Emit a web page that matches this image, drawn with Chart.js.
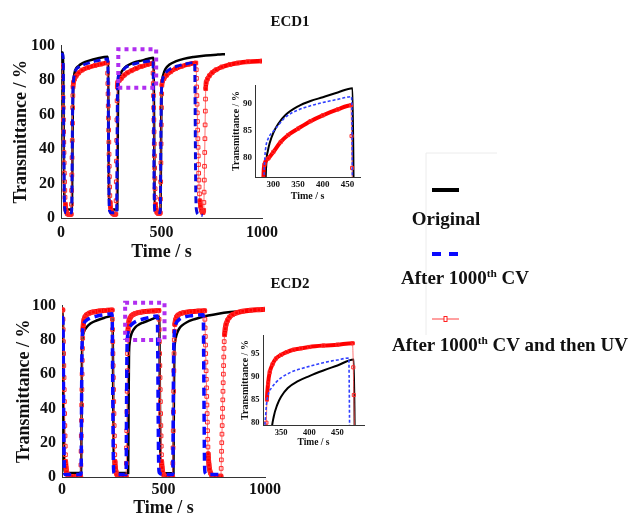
<!DOCTYPE html>
<html><head><meta charset="utf-8">
<script src="https://cdn.jsdelivr.net/npm/chart.js@4"></script>
<style>
body{margin:0;background:#fff;width:630px;height:517px;overflow:hidden;position:relative;font-family:'Liberation Serif','Times New Roman',serif;}
canvas{position:absolute;}
.t{position:absolute;font-weight:bold;color:#111;white-space:nowrap;line-height:1;}
sup{font-size:0.6em;vertical-align:0.55em;line-height:0;}
</style></head><body>
<canvas id="m1" style="left:0;top:30px" width="285" height="240"></canvas>
<canvas id="m2" style="left:0;top:290px" width="285" height="235"></canvas>
<canvas id="i1" style="left:225px;top:75px" width="145" height="130"></canvas>
<canvas id="i2" style="left:230px;top:325px" width="145" height="130"></canvas>
<div class="t" style="left:290px;top:21px;font-size:15px;transform:translate(-50%,-50%)">ECD1</div>
<div class="t" style="left:290px;top:283px;font-size:15px;transform:translate(-50%,-50%)">ECD2</div>
<svg style="position:absolute;left:0;top:0" width="630" height="517">
  <line x1="426" y1="153" x2="497" y2="153" stroke="#ececec" stroke-width="1"/>
  <line x1="426" y1="153" x2="426" y2="335" stroke="#ececec" stroke-width="1"/>
  <line x1="432" y1="190" x2="459" y2="190" stroke="#000" stroke-width="4"/>
  <line x1="432" y1="254" x2="441" y2="254" stroke="#0a0aff" stroke-width="4"/>
  <line x1="449" y1="254" x2="458" y2="254" stroke="#0a0aff" stroke-width="4"/>
  <line x1="432" y1="319" x2="459" y2="319" stroke="#ff4040" stroke-width="1"/>
  <rect x="444" y="316.5" width="3" height="5" fill="#fff" stroke="#ff2020" stroke-width="1"/>
</svg>
<div id="lg1" class="t" style="left:446px;top:218px;font-size:19px;transform:translate(-50%,-50%)">Original</div>
<div id="lg2" class="t" style="left:401px;top:277px;font-size:19px;transform:translateY(-50%)">After 1000<sup>th</sup> CV</div>
<div id="lg3" class="t" style="left:392px;top:344px;font-size:19px;transform:translateY(-50%)">After 1000<sup>th</sup> CV and then UV</div>
<script>
// ---------------- DATA ----------------
const mainXTicks = [0, 500, 1000];
const mainYTicks = [0, 20, 40, 60, 80, 100];
const inset1XTicks = [300, 350, 400, 450];
const inset1YTicks = [80, 85, 90];
const inset2XTicks = [350, 400, 450];
const inset2YTicks = [80, 85, 90, 95];
const seriesNames = ["Original", "After 1000th CV", "After 1000th CV and then UV"];

// ECD1 [time s, transmittance %]
const ecd1Original = [[0,96],[9,96],[11,85],[13,55],[15,25],[17,10],[20,6],[30,5],[45,5],[54,5],[56,25],[58,55],[60,72],[63,80],[67,84],[72,86],[85,88],[110,90],[140,91.3],[180,92.5],[233,93.5],[235,75],[237,40],[239,15],[242,6],[250,5],[265,5],[280,5],[282,40],[284,72],[286,79],[289,81.2],[293,82.8],[300,84.6],[310,86.3],[325,88],[350,89.6],[375,90.6],[400,91.3],[430,92.2],[460,93],[462,75],[464,40],[466,15],[469,5],[480,4],[495,4],[497,30],[499,60],[501,74],[504,80],[510,83.5],[520,86.5],[540,89],[570,90.8],[610,92.3],[660,93.4],[720,94.3],[780,94.8],[816,95]];
const ecd1AfterCV = [[0,95],[10,95],[12,80],[14,45],[16,15],[19,5],[25,3],[40,3],[53,3],[55,25],[57,55],[59,72],[62,79],[66,83],[72,85.5],[85,87.3],[110,88.8],[140,90],[180,91.2],[233,92.2],[235,70],[237,35],[239,12],[242,4],[250,3],[265,3],[277,3],[279,45],[281,74],[283,80],[285,82],[290,83.6],[300,84.9],[310,86],[325,87.6],[350,88.9],[375,89.7],[400,90.3],[430,90.9],[458,91.4],[460,70],[462,35],[464,12],[467,4],[480,3],[494,3],[496,30],[498,62],[500,74],[504,79.5],[512,82.5],[525,84.8],[545,86.6],[575,88],[615,89.2],[665,90.2],[667,70],[669,35],[671,12],[675,4],[685,2],[705,1.5]];
const ecd1AfterCVUV = [[0,88.5],[7,88],
 [8,82],[9,76],[10,70],[11,64],[12,57],[13,50],[14,44],[15,38],[16,32],[17,26],[18,21],[19,16],[20,12],[22,8],[24,5],[27,3.5],[31,2.5],[38,2],[46,2],[51,2.2],
 [52,8],[53,16],[54,25],[55,35],[56,45],[57,55],[58,64],[59,71],[60,76],[62,78.5],[67,80.5],[75,82.3],[88,84.2],[105,85.8],[135,87.3],[170,88.5],[200,89.3],[231,90],
 [232,84],[233,78],[234,72],[235,65],[236,58],[237,51],[238,44],[239,37],[240,30],[241,24],[242,18],[243,13],[245,9],[247,6],[250,4],[255,2.8],[262,2.2],[268,2],[273,2.3],
 [274,10],[275,21],[276,33],[277,45],[278,57],[279,68],[280,76],[282,78.6],[290,79.8],[300,81],[315,82.9],[330,84.2],[350,85.4],[375,86.8],[400,87.9],[430,89],[457,89.8],
 [458,84],[459,78],[460,71],[461,64],[462,57],[463,50],[464,43],[465,36],[466,29],[467,23],[468,17],[469,12],[471,8],[473,5],[477,3.3],[484,2.6],[490,2.6],[494,3],
 [495,11],[496,21],[497,32],[498,43],[499,54],[500,64],[501,72],[502,77],[505,79.3],[512,80.8],[525,82.8],[545,84.8],[570,86.6],[600,88],[635,89.2],[671,89.9],
 [673,86],[674,81],[675,76],[676,71],[677,66],[678,61],[679,56],[680,51],[681,46],[682,41],[683,36],[684,31],[685,26],[686,22],[687,18],[689,14],[691,10],[694,7],[698,4.5],[703,3.3],[707,3.2],[710,4.5],
 [711,9],[712,15],[713,22],[714,30],[715,38],[716,46],[717,54],[718,62],[719,69],[720,75],[722,78.5],[728,80.5],[738,82.5],[752,84.3],[772,86],[800,87.6],[840,89],[880,89.9],[930,90.6],[1000,91]];

// ECD2 [time s, transmittance %]
const ecd2Original = [[0,96],[4,96],[6,80],[8,45],[10,15],[12,5],[15,2.5],[40,2.3],[94,2.3],[96,30],[98,65],[100,78],[104,83],[110,85.3],[120,87.2],[140,89.5],[170,91.3],[210,92.9],[249,94],[251,70],[253,35],[255,10],[258,3],[270,2.3],[300,2.3],[326,2.3],[328,40],[330,70],[333,78],[337,81.3],[343,83.8],[350,85.6],[362,87.5],[380,89],[400,90.1],[425,91.3],[450,92.4],[479,93.7],[481,70],[483,35],[485,10],[488,3],[500,2.2],[530,2.2],[549,2.2],[551,40],[553,70],[556,78],[560,81],[567,84],[577,86.5],[592,88.5],[615,90.3],[645,91.8],[680,93],[720,94.2],[770,95.3],[830,96.2],[900,96.9],[995,97.4]];
const ecd2AfterCV = [[0,93],[4,93],[6,75],[8,40],[10,12],[12,3],[15,1.5],[50,1.5],[94,1.5],[96,35],[98,70],[100,82],[103,87],[108,89.5],[118,91.2],[135,92.5],[160,93.5],[200,94.5],[247,95.2],[249,70],[251,35],[253,10],[256,2.5],[270,1.5],[300,1.5],[316,1.5],[318,40],[320,72],[323,82],[327,86],[333,87.5],[340,88.6],[350,89.7],[365,90.8],[380,91.5],[400,92.2],[425,93],[450,93.6],[470,94],[472,70],[474,35],[476,10],[479,2.5],[500,1.5],[530,1.5],[546,1.5],[548,40],[550,72],[553,83],[557,87.5],[563,89.8],[572,91.3],[585,92.5],[605,93.4],[630,94],[660,94.4],[696,94.6],[698,70],[700,35],[702,10],[705,2.5],[720,1.5],[760,1.5],[790,1.5]];
const ecd2AfterCVUV = [[0,97.5],[4,97.5],
 [5,92],[6,86],[7,79],[8,72],[9,65],[10,58],[11,51],[12,44],[13,37],[14,30],[15,24],[16,18],[17,13],[18,9],[20,5.5],[23,3],[27,1.5],[35,0.6],[50,0.3],[75,0.3],[92,0.4],
 [93,7],[94,15],[95,24],[96,33],[97,42],[98,51],[99,60],[100,68],[101,75],[102,81],[103,85.5],[105,89],[108,91.5],[113,93.3],[120,94.5],[135,95.6],[155,96.3],[185,96.9],[215,97.2],[247,97.4],
 [248,92],[249,86],[250,79],[251,72],[252,65],[253,58],[254,51],[255,44],[256,37],[257,30],[258,24],[259,18],[260,13],[261,9],[263,5.5],[266,3],[270,1.5],[280,0.5],[300,0.3],[316,0.4],
 [317,8],[318,17],[319,27],[320,38],[321,50],[322,62],[323,72],[324,80],[325,85],[327,88.5],[330,91],[335,92.7],[341,93.9],[350,94.7],[360,95.3],[372,95.8],[385,96.1],[400,96.4],[425,96.7],[450,96.9],[477,97.2],
 [478,92],[479,86],[480,79],[481,72],[482,65],[483,58],[484,51],[485,44],[486,37],[487,30],[488,24],[489,18],[490,13],[491,9],[493,5.5],[496,3],[500,1.5],[510,0.5],[530,0.3],[545,0.4],
 [546,8],[547,17],[548,27],[549,38],[550,50],[551,62],[552,72],[553,80],[554,85],[556,89],[559,91.5],[564,93.3],[572,94.5],[585,95.4],[605,96],[635,96.5],[670,96.8],[703,97],
 [704,92],[705,87],[706,82],[707,77],[708,72],[709,67],[710,62],[711,57],[712,52],[713,47],[714,42],[715,37],[716,32],[717,27],[718,22],[719,17.5],[720,13.5],[722,10],[724,7],[727,4.5],[731,2.5],[737,1.2],[750,0.5],[770,0.4],[783,0.5],
 [784,5],[785,10],[786,15],[787,20],[788,25],[789,30],[790,35],[791,40],[792,45],[793,50],[794,55],[795,60],[796,65],[797,70],[798,75],[799,79],[801,83],[804,86.5],[808,89],[815,91.3],[825,93.2],[840,94.7],[860,95.8],[890,96.7],[930,97.3],[970,97.6],[1000,97.8]];

// zoom-region boxes (data coordinates)
const ecd1ZoomBox = [[285,75.6],[473.5,75.6],[473.5,97.9],[285,97.9],[285,75.6]];
const ecd2ZoomBox = [[311,80],[505,80],[505,101.7],[311,101.7],[311,80]];

// ---------------- DRAWING ----------------
const FONT = "'Liberation Serif','Times New Roman',serif";
const pts = a => a.map(p => ({x: p[0], y: p[1]}));
function redSeg(thick) {
  const big = c => Math.abs(c.p1.parsed.y - c.p0.parsed.y) > 3.6;
  return {
    borderWidth: c => big(c) ? 1 : thick,
    borderColor: c => big(c) ? 'rgba(255,90,90,0.85)' : '#ff0000'
  };
}
function datasets(o, b, r, box, s) {
  const sets = [];
  if (box) sets.push({label:'box', data: pts(box), showLine: true, borderColor: '#b02ef0', borderWidth: 4,
    borderDash: [4, 4], pointRadius: 0, tension: 0, clip: false});
  sets.push({label: seriesNames[1], data: pts(b), showLine: true, borderColor: s.bc, borderWidth: s.bw,
    borderDash: s.bd, pointRadius: 0, cubicInterpolationMode: 'monotone', clip: s.clip});
  sets.push({label: seriesNames[2], data: pts(r), showLine: true, borderColor: '#ff0000', borderWidth: s.rw,
    segment: redSeg(s.rw), borderCapStyle: 'round', pointStyle: 'rect', pointRadius: s.pr, pointBorderWidth: 1,
    pointBorderColor: '#ff2a2a', pointBackgroundColor: 'rgba(0,0,0,0)', cubicInterpolationMode: 'monotone', clip: s.clip});
  sets.push({label: seriesNames[0], data: pts(o), showLine: true, borderColor: '#000', borderWidth: s.kw,
    pointRadius: 0, cubicInterpolationMode: 'monotone', clip: s.clip});
  return sets;
}
function axis(c) {
  return {
    type: 'linear', min: c.min, max: c.max,
    afterBuildTicks: sc => { sc.ticks = c.ticks.map(v => ({value: v})); },
    afterFit: sc => { if (c.isX) sc.height = c.fit; else sc.width = c.fit; },
    grid: {display: false, drawTicks: false},
    border: {display: true, color: '#333', width: 1},
    ticks: {color: '#111', padding: c.tpad, autoSkip: false, maxRotation: 0,
      callback: v => String(v),
      font: {family: FONT, size: c.tsize, weight: 'bold'}},
    title: {display: true, text: c.title, color: '#111',
      font: {family: FONT, size: c.titleSize, weight: 'bold'},
      padding: c.isX ? {top: 0, bottom: c.titlePad} : {top: c.titlePad, bottom: 0}}
  };
}
function make(id, sets, pad, xc, yc) {
  new Chart(document.getElementById(id), {
    type: 'scatter',
    data: {datasets: sets},
    options: {
      responsive: false, animation: false, events: [],
      layout: {padding: pad},
      plugins: {legend: {display: false}, tooltip: {enabled: false}},
      scales: {x: axis(Object.assign({isX: true}, xc)), y: axis(Object.assign({isX: false}, yc))}
    }
  });
}
const mainStyle1 = {bc: '#0a0ae0', bw: 3, bd: [7, 4], rw: 4.5, kw: 2.5, pr: 2.6, clip: undefined};
const mainStyle2 = {bc: '#0a0aff', bw: 3.5, bd: [8, 5], rw: 5, kw: 2.5, pr: 2.6, clip: undefined};
const insetStyle = {bc: '#3040ff', bw: 1.6, bd: [3, 2], rw: 4, kw: 2, pr: 2.2, clip: 0};

make('m1', datasets(ecd1Original, ecd1AfterCV, ecd1AfterCVUV, ecd1ZoomBox, mainStyle1),
  {left: 0, right: 23, top: 13, bottom: 0},
  {min: 0, max: 1000, ticks: mainXTicks, fit: 52, tpad: 5.4, tsize: 16, title: 'Time / s', titleSize: 18, titlePad: 6.7},
  {min: 0, max: 100, ticks: mainYTicks, fit: 61, tpad: 6, tsize: 16, title: 'Transmittance / %', titleSize: 18, titlePad: 10.5});
make('m2', datasets(ecd2Original, ecd2AfterCV, ecd2AfterCVUV, ecd2ZoomBox, mainStyle2),
  {left: 0, right: 20, top: 13, bottom: 0},
  {min: 0, max: 1000, ticks: mainXTicks, fit: 48, tpad: 3.4, tsize: 16, title: 'Time / s', titleSize: 18, titlePad: 6.2},
  {min: 0, max: 100, ticks: mainYTicks, fit: 62, tpad: 6, tsize: 16, title: 'Transmittance / %', titleSize: 18, titlePad: 13.5});
make('i1', datasets(ecd1Original, ecd1AfterCV, ecd1AfterCVUV, null, insetStyle),
  {left: 0, right: 10, top: 10, bottom: 0},
  {min: 263, max: 475, ticks: inset1XTicks, fit: 28, tpad: 2.6, tsize: 9, title: 'Time / s', titleSize: 10, titlePad: 3},
  {min: 76.3, max: 93.6, ticks: inset1YTicks, fit: 30, tpad: 3, tsize: 9, title: 'Transmittance / %', titleSize: 10, titlePad: 5.7});
make('i2', datasets(ecd2Original, ecd2AfterCV, ecd2AfterCVUV, null, insetStyle),
  {left: 0, right: 11, top: 10, bottom: 0},
  {min: 318, max: 497, ticks: inset2XTicks, fit: 30, tpad: 2.6, tsize: 8.5, title: 'Time / s', titleSize: 9.5, titlePad: 6.6},
  {min: 79.5, max: 99, ticks: inset2YTicks, fit: 33, tpad: 3.5, tsize: 8.5, title: 'Transmittance / %', titleSize: 10, titlePad: 9});
</script>
</body></html>
